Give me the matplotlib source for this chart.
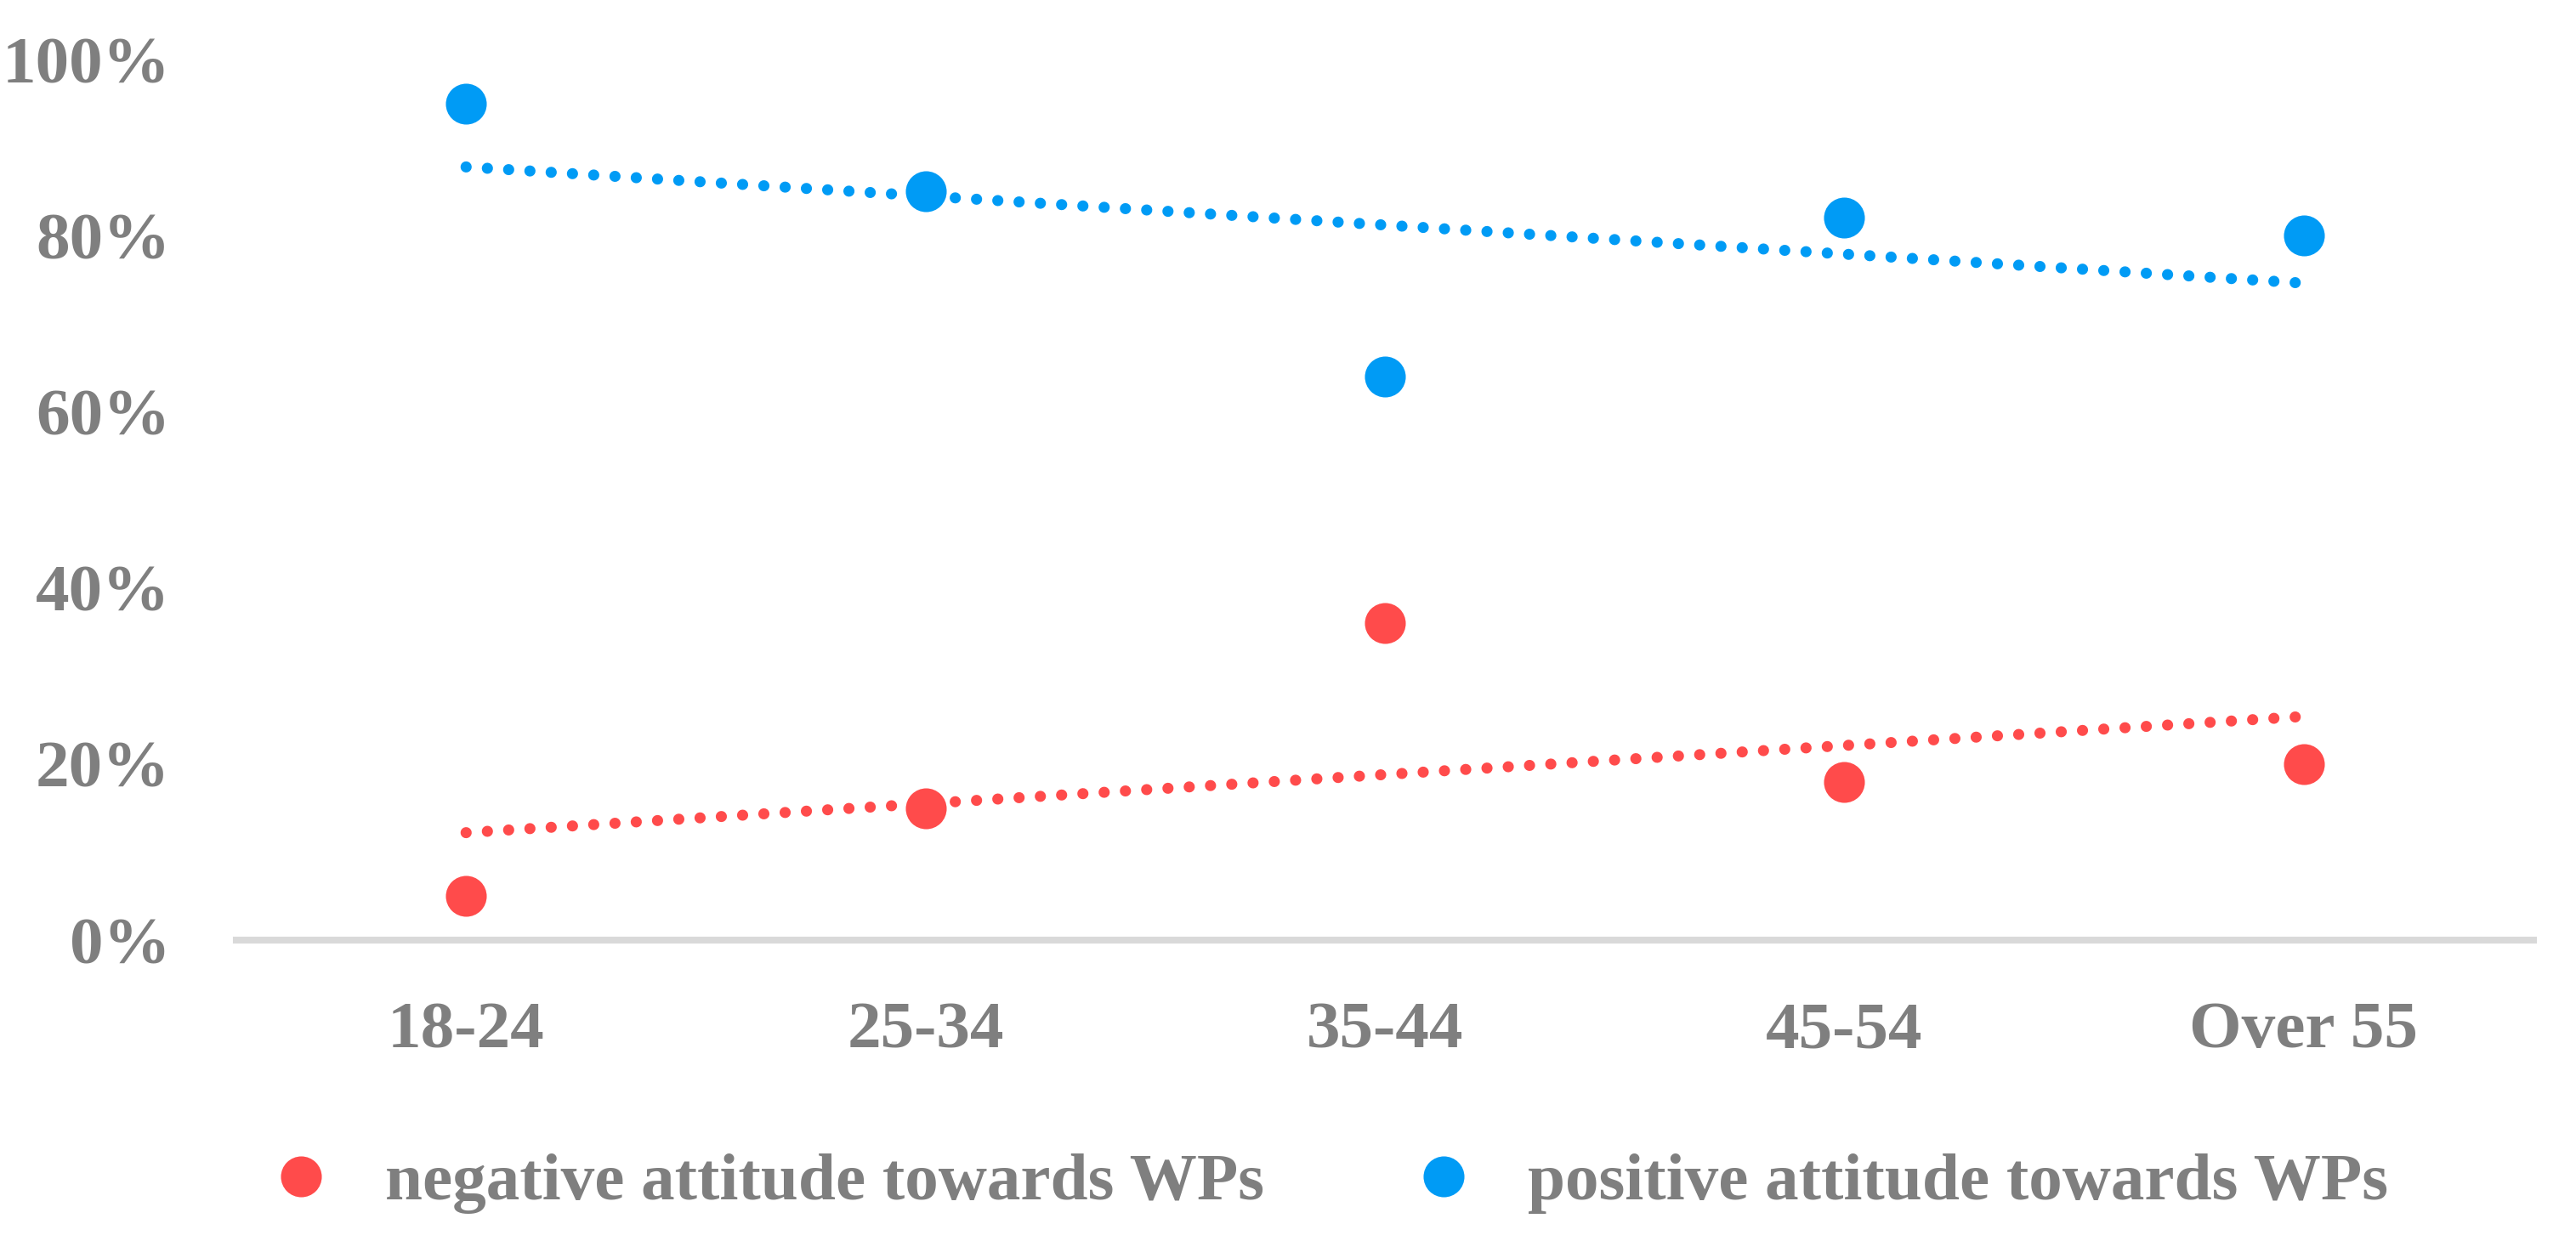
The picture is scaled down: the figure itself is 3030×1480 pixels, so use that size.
import numpy as np
import matplotlib
matplotlib.use("Agg")
import matplotlib.pyplot as plt
from matplotlib.lines import Line2D

categories = ["18-24", "25-34", "35-44", "45-54", "Over 55"]
negative = [0.05, 0.15, 0.36, 0.18, 0.20]
positive = [0.95, 0.85, 0.64, 0.82, 0.80]
series_names = ["negative attitude towards WPs", "positive attitude towards WPs"]
y_ticks = [0.0, 0.2, 0.4, 0.6, 0.8, 1.0]
y_tick_labels = ["0%", "20%", "40%", "60%", "80%", "100%"]

RED = "#FF4B4B"
BLUE = "#009BF5"
GRAY = "#7F7F7F"
AXIS = "#D9D9D9"
FONT = "Liberation Serif"
FS = 28.5

plt.rcParams["font.family"] = [FONT, "DejaVu Serif"]
plt.rcParams["font.weight"] = "bold"

W, H, DPI = 3030, 1480, 200
fig = plt.figure(figsize=(W / DPI, H / DPI), dpi=DPI)
left, right = 278 / W, 2980 / W
bottom, top = (H - 1106) / H, (H - 70) / H
ax = fig.add_axes([left, bottom, right - left, top - bottom])

x = np.arange(len(categories))
ms = 17.3

for vals, col in ((negative, RED), (positive, BLUE)):
    coef = np.polyfit(x, vals, 1)
    xt = np.array([x[0], x[-1]], dtype=float)
    ax.plot(xt, np.polyval(coef, xt), color=col, lw=4.7,
            linestyle=(0, (0.01, 1.91)), dash_capstyle="round", zorder=2,
            clip_on=False)
    ax.plot(x, vals, linestyle="none", marker="o", ms=ms, color=col,
            markeredgewidth=0, zorder=3, clip_on=False)

ax.set_xlim(-0.5, len(categories) - 0.5)
ax.set_ylim(0, 1.0)
ax.set_xticks(x)
ax.set_xticklabels(categories)
ax.set_yticks(y_ticks)
ax.set_yticklabels(y_tick_labels)
ax.tick_params(axis="both", length=0, labelsize=FS, labelcolor=GRAY)
ax.tick_params(axis="y", pad=28)
ax.tick_params(axis="x", pad=26)
for lab in ax.get_xticklabels() + ax.get_yticklabels():
    lab.set_fontweight("bold")

for s in ("top", "right", "left"):
    ax.spines[s].set_visible(False)
ax.spines["bottom"].set_color(AXIS)
ax.spines["bottom"].set_linewidth(2.9)

handles = [Line2D([], [], linestyle="none", marker="o", ms=ms, color=c,
                  markeredgewidth=0) for c in (RED, BLUE)]
leg = fig.legend(handles, series_names, loc="center",
                 bbox_to_anchor=(1562 / W, 1 - 1392 / H), ncol=2,
                 frameon=False, fontsize=FS, handlelength=1.0,
                 handletextpad=0.75, columnspacing=2.17, borderpad=0)
for t in leg.get_texts():
    t.set_color(GRAY)
    t.set_fontweight("bold")

fig.savefig("out.png", dpi=DPI)
